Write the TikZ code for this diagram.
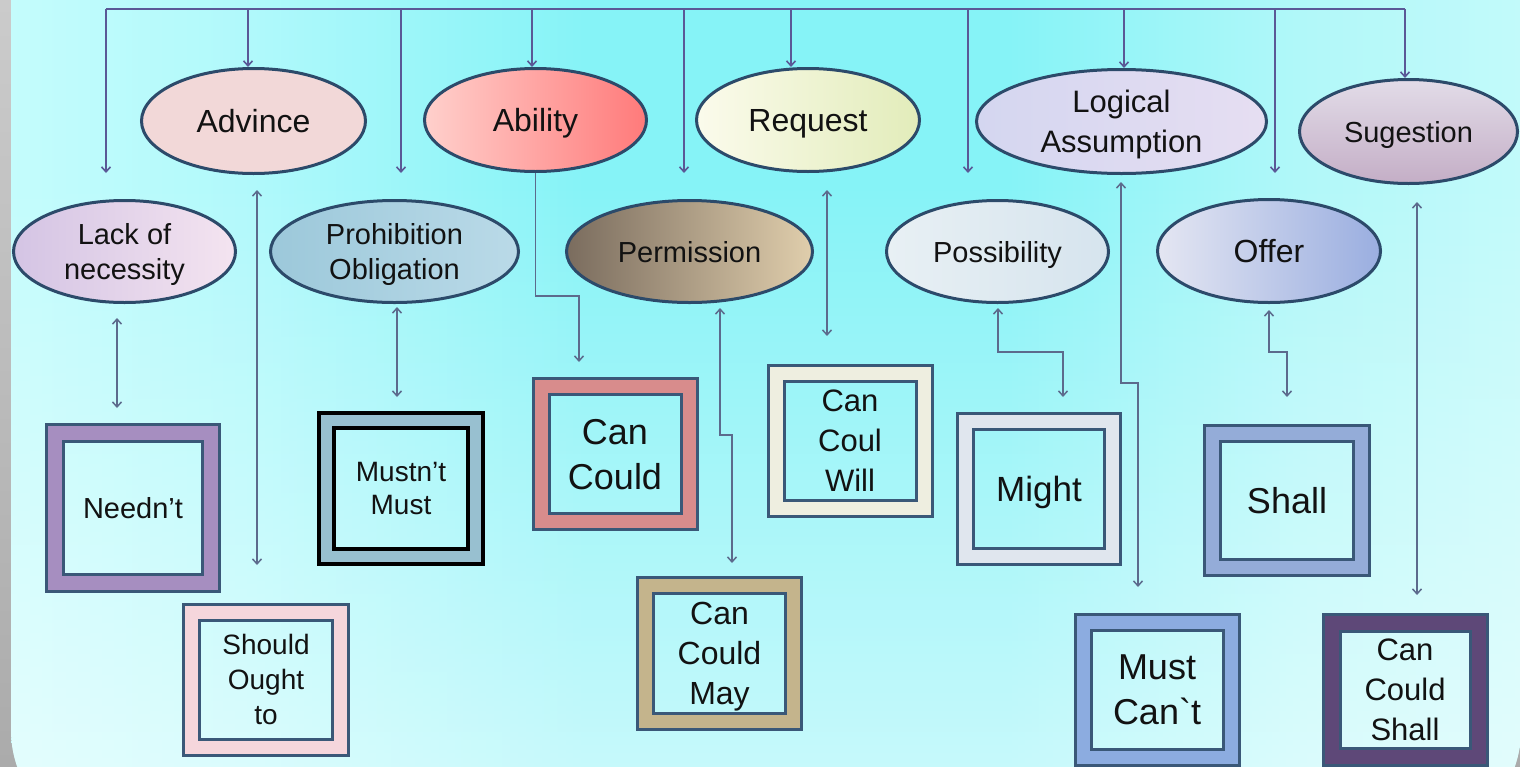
\documentclass[tikz,border=0pt]{standalone}
\usepackage{fontspec}
\setmainfont{Liberation Sans}
\font\grv="Liberation Sans" at 36pt
\usetikzlibrary{shapes.geometric,arrows.meta,fadings}
\newcommand\fsz[2]{\fontsize{#1}{#2}\selectfont}
\definecolor{ink}{HTML}{121212}
\definecolor{ovaledge}{HTML}{2C4A6A}
\definecolor{boxedge}{HTML}{3A5878}
\definecolor{barc}{HTML}{5A5896}
\definecolor{linkc}{HTML}{5C6A8C}
\definecolor{graytop}{HTML}{CBCBCB}
\definecolor{graybot}{HTML}{ABABAB}
\definecolor{pA}{HTML}{C4FCFC}
\definecolor{pB}{HTML}{B0F9FB}
\definecolor{pC}{HTML}{86F3F7}
\definecolor{pD}{HTML}{B2F8F9}
\definecolor{pE}{HTML}{C2FAFA}
% ellipse fills
\definecolor{advF}{RGB}{242,216,216}
\definecolor{abilL}{RGB}{255,208,204}
\definecolor{abilR}{RGB}{255,122,122}
\definecolor{reqL}{RGB}{251,251,236}
\definecolor{reqR}{RGB}{226,236,186}
\definecolor{logL}{RGB}{212,214,240}
\definecolor{logR}{RGB}{230,222,242}
\definecolor{sugT}{RGB}{226,220,232}
\definecolor{sugB}{RGB}{196,174,198}
\definecolor{lackL}{RGB}{212,196,228}
\definecolor{lackR}{RGB}{244,228,240}
\definecolor{proL}{RGB}{156,200,218}
\definecolor{proR}{RGB}{186,218,232}
\definecolor{perL}{RGB}{122,108,94}
\definecolor{perR}{RGB}{224,206,172}
\definecolor{posL}{RGB}{232,240,244}
\definecolor{posR}{RGB}{214,228,238}
\definecolor{offL}{RGB}{228,230,242}
\definecolor{offR}{RGB}{154,174,224}
% box frames
\definecolor{fNeed}{RGB}{166,142,192}
\definecolor{fShould}{RGB}{245,214,220}
\definecolor{fMustnt}{RGB}{152,192,208}
\definecolor{fCanCould}{RGB}{216,140,140}
\definecolor{fWill}{RGB}{238,238,224}
\definecolor{fMay}{RGB}{196,180,140}
\definecolor{fMight}{RGB}{224,230,238}
\definecolor{fShall}{RGB}{148,172,216}
\definecolor{fMustCant}{RGB}{140,172,224}
\definecolor{fCCS}{RGB}{94,72,120}
\pgfdeclarehorizontalshading{panelh}{100bp}{color(0bp)=(pA); color(25bp)=(pA); color(33bp)=(pB); color(44bp)=(pC); color(58bp)=(pC); color(68bp)=(pD); color(75bp)=(pE); color(100bp)=(pE)}
\tikzfading[name=fadebottom, top color=transparent!100, middle color=transparent!88, bottom color=transparent!0]
\begin{document}
\begin{tikzpicture}[x=1pt,y=-1pt,
  oval/.style={ellipse, draw=ovaledge, line width=3pt, inner sep=0pt, align=center, text=ink, text depth=0pt},
  frame/.style={rectangle, draw=boxedge, line width=3pt, double=#1, double distance=13pt, inner sep=0pt, align=center, text=ink, text depth=0pt},
  bar/.style={draw=barc, line width=1.6pt},
  link/.style={draw=linkc, line width=1.5pt},
  >={Straight Barb[length=5pt,width=9pt]}]
\useasboundingbox (0,0) rectangle (1520,766);
% background
\shade[top color=graytop, bottom color=graybot] (0,0) rectangle (1520,766);
\begin{scope}
  \clip[rounded corners=111pt] (11,-300) rectangle (1521,841);
  \shade[shading=panelh] (11,-300) rectangle (1521,841);
  \fill[white, path fading=fadebottom, opacity=0.6] (11,180) rectangle (1521,841);
\end{scope}

% upper ellipses
\node[oval, fill=advF, minimum width=224pt, minimum height=105pt, font=\fsz{32}{38}] (adv) at (253.5,121) {Advince};
\node[oval, left color=abilL, right color=abilR, minimum width=222pt, minimum height=103pt, font=\fsz{32}{38}] (abil) at (535.5,120) {Ability};
\node[oval, left color=reqL, right color=reqR, minimum width=223pt, minimum height=103pt, font=\fsz{32}{38}] (req) at (808,120) {Request};
\node[oval, left color=logL, right color=logR, minimum width=290pt, minimum height=104pt, font=\fsz{31}{40}] (logic) at (1121.5,121.5) {Logical\\Assumption};
\node[oval, top color=sugT, bottom color=sugB, minimum width=218pt, minimum height=104pt, font=\fsz{29}{35}] (sug) at (1408.5,131.5) {Sugestion};

% lower ellipses
\node[oval, left color=lackL, right color=lackR, minimum width=222pt, minimum height=102pt, font=\fsz{29}{35}] (lack) at (124.5,251.5) {Lack of\\necessity};
\node[oval, left color=proL, right color=proR, minimum width=248pt, minimum height=102pt, font=\fsz{29}{35}] (proh) at (394.5,251.5) {Prohibition\\Obligation};
\node[oval, left color=perL, right color=perR, minimum width=246pt, minimum height=102pt, font=\fsz{29}{35}] (perm) at (689.5,251.5) {Permission};
\node[oval, left color=posL, right color=posR, minimum width=222pt, minimum height=102pt, font=\fsz{29}{35}] (poss) at (997.5,251.5) {Possibility};
\node[oval, left color=offL, right color=offR, minimum width=223pt, minimum height=103pt, font=\fsz{32}{38}] (offer) at (1269,251) {Offer};

% boxes
\node[frame=fNeed, double distance=14pt, minimum width=156pt, minimum height=150pt, font=\fsz{29}{35}] (need) at (133,507.5) {Needn’t};
\node[frame=fShould, minimum width=149pt, minimum height=135pt, font=\fsz{28}{35}] (should) at (266,679.5) {Should\\Ought\\to};
\node[frame=fMustnt, draw=black, line width=4pt, double distance=11pt, minimum width=149pt, minimum height=136pt, font=\fsz{28}{33}] (mustnt) at (401,488.5) {Mustn’t\\Must};
\node[frame=fCanCould, minimum width=148pt, minimum height=135pt, font=\fsz{36}{45}] (cancould) at (615,454) {Can\\Could};
\node[frame=fWill, minimum width=148pt, minimum height=135pt, font=\fsz{31}{40}] (will) at (850,440.5) {Can\\Coul\\Will};
\node[frame=fMay, minimum width=148pt, minimum height=136pt, font=\fsz{32}{40}] (may) at (719.5,653.5) {Can\\Could\\May};
\node[frame=fMight, minimum width=147pt, minimum height=135pt, font=\fsz{35}{42}] (might) at (1039,488.5) {Might};
\node[frame=fShall, minimum width=149pt, minimum height=134pt, font=\fsz{36}{44}] (shall) at (1287,500) {Shall};
\node[frame=fMustCant, minimum width=148pt, minimum height=135pt, font=\fsz{36}{45}] (mustcant) at (1157,689.5) {Must\\Can{\grv\char"60}t};
\node[frame=fCCS, double distance=14pt, minimum width=147pt, minimum height=134pt, font=\fsz{31}{40}] (ccs) at (1405,689.5) {Can\\Could\\Shall};

% top bar and drops
\coordinate (b1) at (106,9);
\coordinate (b2) at (248,9);
\coordinate (b3) at (401,9);
\coordinate (b4) at (532,9);
\coordinate (b5) at (684,9);
\coordinate (b6) at (791,9);
\coordinate (b7) at (968,9);
\coordinate (b8) at (1124,9);
\coordinate (b9) at (1275,9);
\coordinate (b10) at (1405,9);
\coordinate (t1) at (106,173);
\coordinate (t3) at (401,173);
\coordinate (t5) at (684,173);
\coordinate (t7) at (968,173);
\coordinate (t9) at (1275,173);
\draw[bar] (b1) -- (b10);
\draw[bar,->] (b1) -- (t1);
\draw[bar,->] (b2) -- (b2 |- adv.north);
\draw[bar,->] (b3) -- (t3);
\draw[bar,->] (b4) -- (b4 |- abil.north);
\draw[bar,->] (b5) -- (t5);
\draw[bar,->] (b6) -- (b6 |- req.north);
\draw[bar,->] (b7) -- (t7);
\draw[bar,->] (b8) -- (b8 |- logic.north);
\draw[bar,->] (b9) -- (t9);
\draw[bar,->] (b10) -- (b10 |- sug.north);

% lower links
\coordinate (l1a) at (117,318); \coordinate (l1b) at (117,408);
\draw[link,<->] (l1a) -- (l1b);
\coordinate (l2a) at (257,190); \coordinate (l2b) at (257,565);
\draw[link,<->] (l2a) -- (l2b);
\coordinate (l3a) at (397,307); \coordinate (l3b) at (397,397);
\draw[link,<->] (l3a) -- (l3b);
\coordinate (l4b) at (579,362);
\draw[link,->] (abil.south) -- (535.5,296) -| (l4b);
\coordinate (l5a) at (720,308); \coordinate (l5b) at (732,563);
\draw[link,<->] (l5a) -- (720,435) -| (l5b);
\coordinate (l6a) at (827,190); \coordinate (l6b) at (827,336);
\draw[link,<->] (l6a) -- (l6b);
\coordinate (l7a) at (998,308); \coordinate (l7b) at (1063,397);
\draw[link,<->] (l7a) -- (998,352) -| (l7b);
\coordinate (l8a) at (1121,182); \coordinate (l8b) at (1138,587);
\draw[link,<->] (l8a) -- (1121,383) -| (l8b);
\coordinate (l9a) at (1269,310); \coordinate (l9b) at (1287,397);
\draw[link,<->] (l9a) -- (1269,352) -| (l9b);
\coordinate (l10a) at (1417,202); \coordinate (l10b) at (1417,595);
\draw[link,<->] (l10a) -- (l10b);
\end{tikzpicture}
\end{document}
